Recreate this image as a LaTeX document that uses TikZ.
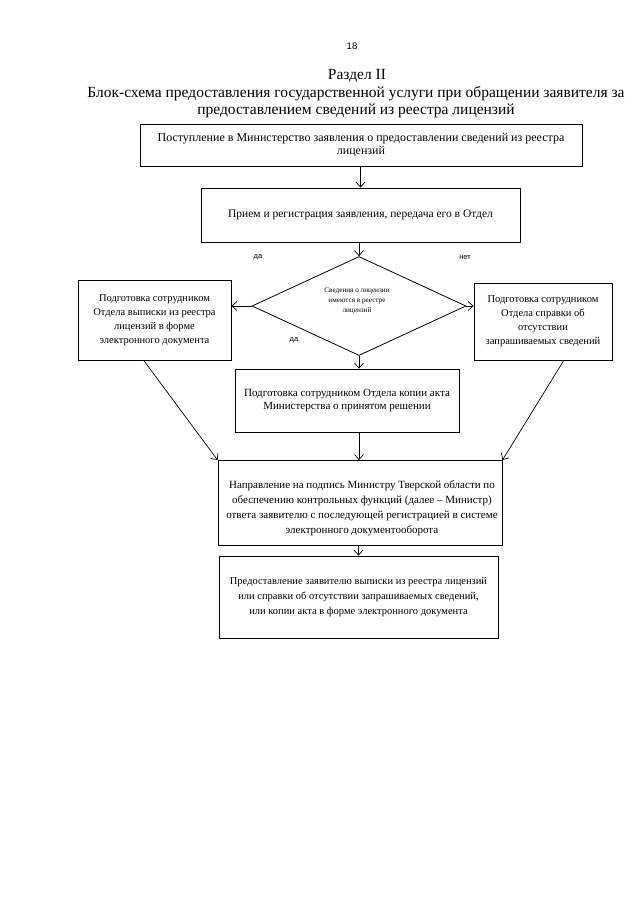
\documentclass[tikz,border=0pt]{standalone}
\usepackage{fontspec}
\setmainfont{Liberation Serif}
\newfontfamily\lsans{Liberation Sans}
\usetikzlibrary{arrows.meta,shapes.geometric,calc}
\begin{document}
\begin{tikzpicture}[x=1pt,y=-1pt,
  box/.style={draw,line width=0.8pt,inner sep=0pt,align=center,font=\fontsize{10.5}{14}\selectfont},
  txt/.style={inner sep=0pt,align=center},
  arr/.style={-{Straight Barb[length=5pt,width=9pt]},line width=0.7pt},
  lbl/.style={font=\lsans\fontsize{7.5}{9}\selectfont},
  ttl/.style={font=\fontsize{15.5}{17}\selectfont,align=center}]
\useasboundingbox (0,0) rectangle (640,905);
\fill[white] (0,0) rectangle (640,905);
\node[font=\lsans\fontsize{9.5}{10}\selectfont] (pg) at (352,46) {18};
\node[ttl] (sec) at (357,76) {Раздел II};
\node[ttl] (title) at (356,102) {Блок-схема предоставления государственной услуги при обращении заявителя за\\предоставлением сведений из реестра лицензий};
\node[box,minimum width=442pt,minimum height=42pt,font=\fontsize{12}{13.5}\selectfont] (b1) at (361,145) {Поступление в Министерство заявления о предоставлении сведений из реестра\\лицензий};
\node[box,minimum width=319pt,minimum height=54pt,font=\fontsize{11.5}{14}\selectfont] (b2) at (360.5,215) {Прием и регистрация заявления, передача его в Отдел};
\node[draw,diamond,line width=0.8pt,inner sep=0pt,minimum width=214pt,minimum height=99pt] (dia) at (359,306) {};
\node[txt,font=\fontsize{7.2}{10}\selectfont] (diat) at (357,301) {Сведения о лицензии\\имеются в реестре\\лицензий};
\node[box,minimum width=153pt,minimum height=80pt] (lb) at (154.5,320) {Подготовка сотрудником\\Отдела выписки из реестра\\лицензий в форме\\электронного документа};
\node[box,minimum width=138pt,minimum height=77pt] (rb) at (543,321.5) {Подготовка сотрудником\\Отдела справки об\\отсутствии\\запрашиваемых сведений};
\node[box,minimum width=224pt,minimum height=63pt,font=\fontsize{11}{13.5}\selectfont] (b3) at (347,400.5) {Подготовка сотрудником Отдела копии акта\\Министерства о принятом решении};
\node[box,minimum width=284pt,minimum height=85pt] (b4) at (360,503) {};
\node[txt,font=\fontsize{11}{15}\selectfont] (b4t) at (362,508) {Направление на подпись Министру Тверской области по\\обеспечению контрольных функций (далее -- Министр)\\ответа заявителю с последующей регистрацией в системе\\электронного документооборота};
\node[box,minimum width=279pt,minimum height=82pt,font=\fontsize{10.5}{15}\selectfont] (b5) at (358.5,597) {Предоставление заявителю выписки из реестра лицензий\\или справки об отсутствии запрашиваемых сведений,\\или копии акта в форме электронного документа};
\node[lbl] (da1) at (258,257) {да};
\node[lbl] (da2) at (294,340) {да};
\node[lbl] (net) at (465,258) {нет};
\draw[arr] (b1.south -| b2.north) -- (b2.north);
\draw[arr] (b2.south -| dia.north) -- (dia.north);
\draw[arr] (dia.west) -- (dia.west -| lb.east);
\draw[arr] (dia.east) -- (dia.east -| rb.west);
\draw[arr] (dia.south) -- (dia.south |- b3.north);
\draw[arr] (b3.south -| dia.south) -- (b4.north -| dia.south);
\draw[arr] ($(lb.south west)!0.43!(lb.south east)$) -- (b4.north west);
\draw[arr] ($(rb.south west)!0.65!(rb.south east)$) -- (b4.north east);
\draw[arr] (b4.south -| b5.north) -- (b5.north);
\end{tikzpicture}
\end{document}
